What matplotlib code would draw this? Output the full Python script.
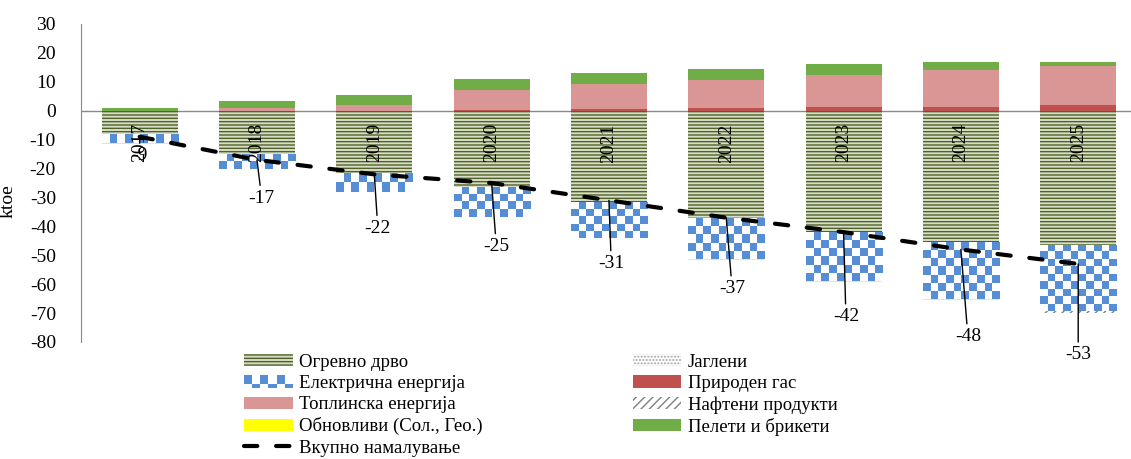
import numpy as np
import matplotlib
matplotlib.use("Agg")
import matplotlib.pyplot as plt
from matplotlib.colors import ListedColormap
from matplotlib.patches import Rectangle, Patch
from matplotlib.legend_handler import HandlerBase

plt.rcParams['font.family'] = ['Liberation Serif', 'DejaVu Serif']
plt.rcParams['hatch.linewidth'] = 1.0
plt.rcParams['axes.unicode_minus'] = False

########################
# Data (ktoe)
########################
years = ['2017', '2018', '2019', '2020', '2021', '2022', '2023', '2024', '2025']
firewood = [-8.0, -15.0, -21.5, -26.4, -31.6, -37.2, -42.0, -45.3, -46.5]
coal = [0.0, 0.0, 0.0, 0.0, 0.0, 0.0, 0.0, 0.0, 0.0]
electric = [-3.0, -5.0, -6.5, -10.4, -12.4, -14.1, -16.8, -19.7, -22.9]
gas = [0.0, 0.0, 0.0, 0.1, 0.5, 0.9, 1.2, 1.4, 2.0]
heat = [-0.3, 1.0, 2.1, 7.2, 8.9, 9.9, 11.3, 12.8, 13.6]
oil = [0.0, 0.0, 0.0, 0.0, 0.0, 0.0, -0.1, -0.2, -0.5]
renewables = [-0.1, -0.1, -0.1, -0.1, -0.1, -0.2, -0.2, -0.2, -0.2]
pellets = [1.0, 2.5, 3.5, 3.8, 3.8, 3.8, 3.5, 2.5, 1.4]
total = [-9, -17, -22, -25, -31, -37, -42, -48, -53]

# where the total labels sit (x shift, y position)
label_dx = [0.0, 0.04, 0.03, 0.04, 0.02, 0.05, 0.02, 0.06, 0.0]
label_y = [-15.6, -30.2, -40.6, -46.9, -52.8, -61.5, -71.2, -78.1, -84.4]

names = {
    'firewood': 'Огревно дрво',
    'coal': 'Јаглени',
    'electric': 'Електрична енергија',
    'gas': 'Природен гас',
    'heat': 'Топлинска енергија',
    'oil': 'Нафтени продукти',
    'renewables': 'Обновливи (Сол., Гео.)',
    'pellets': 'Пелети и брикети',
    'total': 'Вкупно намалување',
}

BLUE = '#558ed5'

styles = {
    'firewood': dict(color='#d9dcc6', edgecolor='#4f6228', hatch='-----', linewidth=0),
    'coal': dict(color='white', edgecolor='#a6a6a6', hatch='.....', linewidth=0),
    'electric': dict(color='white', linewidth=0),
    'gas': dict(color='#c0504d', linewidth=0),
    'heat': dict(color='#d99694', linewidth=0),
    'oil': dict(color='white', edgecolor='#7f7f7f', hatch='////', linewidth=0),
    'renewables': dict(color='#ffff00', linewidth=0),
    'pellets': dict(color='#70ad47', linewidth=0),
}

series = [('firewood', firewood), ('coal', coal), ('electric', electric),
          ('gas', gas), ('heat', heat), ('oil', oil),
          ('renewables', renewables), ('pellets', pellets)]

fig = plt.figure(figsize=(11.31, 4.59), dpi=100)
ax = fig.add_axes([81 / 1131, 117 / 459, 1 - 81 / 1131, 318 / 459])

x = np.arange(len(years))
width = 0.648
ax.set_xlim(-0.5, 8.45)
ax.set_ylim(-80, 30)

########################
# Stacked bars (positives up, negatives down)
########################
pos = np.zeros(len(years))
neg = np.zeros(len(years))
bars = {}
for key, vals in series:
    vals = np.array(vals, dtype=float)
    bottom = np.where(vals >= 0, pos, neg)
    bars[key] = ax.bar(x, vals, width, bottom=bottom, zorder=2, **styles[key])
    pos = pos + np.where(vals > 0, vals, 0)
    neg = neg + np.where(vals < 0, vals, 0)

# checkerboard fill for electricity, clipped to each bar
checker_cmap = ListedColormap(['white', BLUE])
fig.canvas.draw()
for rect in bars['electric']:
    x0, y0 = rect.get_x(), rect.get_y()
    w, h = rect.get_width(), rect.get_height()
    p0 = ax.transData.transform((x0, y0))
    p1 = ax.transData.transform((x0 + w, y0 + h))
    nx = max(1, int(round(abs(p1[0] - p0[0]) / 7.6)))
    ny = max(1, int(round(abs(p1[1] - p0[1]) / 7.6)))
    board = np.add.outer(np.arange(ny), np.arange(nx)) % 2
    ymin, ymax = sorted([y0, y0 + h])
    im = ax.imshow(board, cmap=checker_cmap, extent=(x0, x0 + w, ymin, ymax),
                   aspect='auto', interpolation='nearest', origin='upper',
                   zorder=2.5)
    im.set_clip_path(rect)

ax.set_xlim(-0.5, 8.45)
ax.set_ylim(-80, 30)

########################
# Total line and labels
########################
line, = ax.plot(x, total, color='black', lw=3, linestyle=(0, (3.2, 4.5)),
                dash_capstyle='round', zorder=4)

for i, t in enumerate(total):
    ax.annotate(str(t), xy=(x[i], t), xytext=(x[i] + label_dx[i], label_y[i]),
                ha='center', va='center', fontsize=14, annotation_clip=False,
                arrowprops=dict(arrowstyle='-', color='black', lw=1,
                                shrinkA=1, shrinkB=0),
                zorder=5)

# year labels inside the bars
for i, yr in enumerate(years):
    ax.text(x[i], -4.3, yr, rotation=90, ha='center', va='top',
            fontsize=14, zorder=3)

########################
# Axes styling
########################
ax.axhline(0, color='#898989', lw=1, zorder=1)
for s in ['top', 'right', 'bottom']:
    ax.spines[s].set_visible(False)
ax.spines['left'].set_color('#898989')
ax.set_xticks([])
ax.set_yticks(np.arange(-80, 31, 10))
ax.tick_params(axis='y', length=0, pad=18, labelsize=14)
ax.set_ylabel('ktoe', fontsize=14)
ax.yaxis.set_label_coords(-0.061, 0.443)


########################
# Legend
########################
class CheckerHandler(HandlerBase):
    def create_artists(self, legend, orig_handle, xdescent, ydescent,
                       width, height, fontsize, trans):
        n = 6
        cw = width / n
        arts = []
        y_top = -ydescent + height
        row = 0
        while row * cw < height:
            ch = min(cw, height - row * cw)
            for c in range(n):
                col = BLUE if (row + c) % 2 == 0 else 'white'
                r = Rectangle((-xdescent + c * cw, y_top - row * cw - ch), cw, ch,
                              facecolor=col, edgecolor='none', transform=trans)
                arts.append(r)
            row += 1
        return arts


elec_proxy = Patch(facecolor=BLUE)
handles = [bars['firewood'], elec_proxy, bars['heat'], bars['renewables'], line,
           bars['coal'], bars['gas'], bars['oil'], bars['pellets']]
labels = [names['firewood'], names['electric'], names['heat'], names['renewables'],
          names['total'], names['coal'], names['gas'], names['oil'], names['pellets']]

fig.legend(handles, labels, ncol=2, loc='upper left',
           bbox_to_anchor=(244 / 1131, 1 - 354 / 459), frameon=False,
           fontsize=13.5, borderpad=0, borderaxespad=0, handlelength=2.6,
           handleheight=0.62, handletextpad=0.33, columnspacing=8.0,
           labelspacing=0.22, handler_map={elec_proxy: CheckerHandler()})

plt.savefig('out.png', dpi=100)
